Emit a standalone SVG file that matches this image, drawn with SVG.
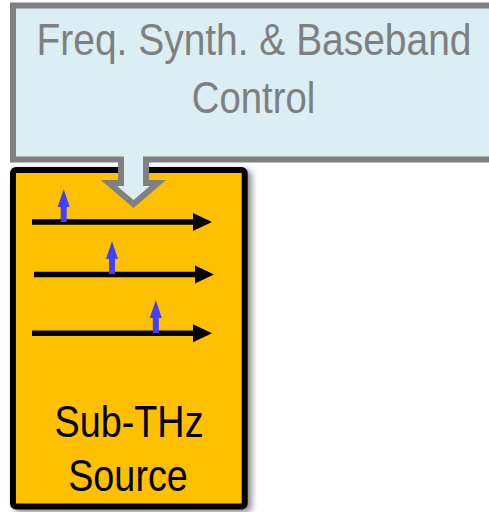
<svg xmlns="http://www.w3.org/2000/svg" width="489" height="512" viewBox="0 0 489 512">
  <defs>
    <style>
      .src { fill: #FFC000; stroke: #000000; stroke-width: 6; }
      .callout { fill: #DAEEF3; stroke: #808080; stroke-width: 6; stroke-linejoin: miter; }
      .ttop { font-family: "Liberation Sans", Arial, sans-serif; font-size: 44px; fill: #7F7F7F; text-anchor: middle; }
      .tsrc { font-family: "Liberation Sans", Arial, sans-serif; font-size: 45px; fill: #000000; text-anchor: middle; }
      .blk { fill: #000000; }
      .blu { fill: #4040FF; }
    </style>
    <filter id="shadow" x="-10%" y="-10%" width="125%" height="125%">
      <feDropShadow dx="4" dy="3" stdDeviation="3" flood-color="#000000" flood-opacity="0.45"/>
    </filter>
    <path id="harrow" d="M0,-2.7 H161 V-9 L180,0 L161,9 V2.7 H0 Z"/>
    <path id="varrow" d="M0,0 L6,18 H3 V33 H-3 V18 H-6 Z"/>
  </defs>

  <g id="source">
    <rect class="src" x="13" y="170" width="231.7" height="336.5" rx="3" filter="url(#shadow)"/>
    <g id="signals">
      <use href="#harrow" class="blk" transform="translate(32,222)"/>
      <use href="#harrow" class="blk" transform="translate(34,274.5)"/>
      <use href="#harrow" class="blk" transform="translate(32,333.3)"/>
      <use href="#varrow" class="blu" transform="translate(63.7,189)"/>
      <use href="#varrow" class="blu" transform="translate(112,241)"/>
      <use href="#varrow" class="blu" transform="translate(155.8,300)"/>
    </g>
    <text class="tsrc" transform="translate(129,436.5) scale(0.84,1)" x="0" y="0">Sub-THz</text>
    <text class="tsrc" transform="translate(128,490.5) scale(0.84,1)" x="0" y="0">Source</text>
  </g>

  <g id="connectors">
  </g>

  <g id="control">
    <path class="callout" d="M13,5.5 H500 V159.5 H146 V183 H158 L133.5,204 L109,183 H121 V159.5 H13 Z"/>
    <text class="ttop" transform="translate(254,55) scale(0.885,1)" x="0" y="0">Freq. Synth. &amp; Baseband</text>
    <text class="ttop" transform="translate(253.5,113) scale(0.87,1)" x="0" y="0">Control</text>
  </g>
</svg>
